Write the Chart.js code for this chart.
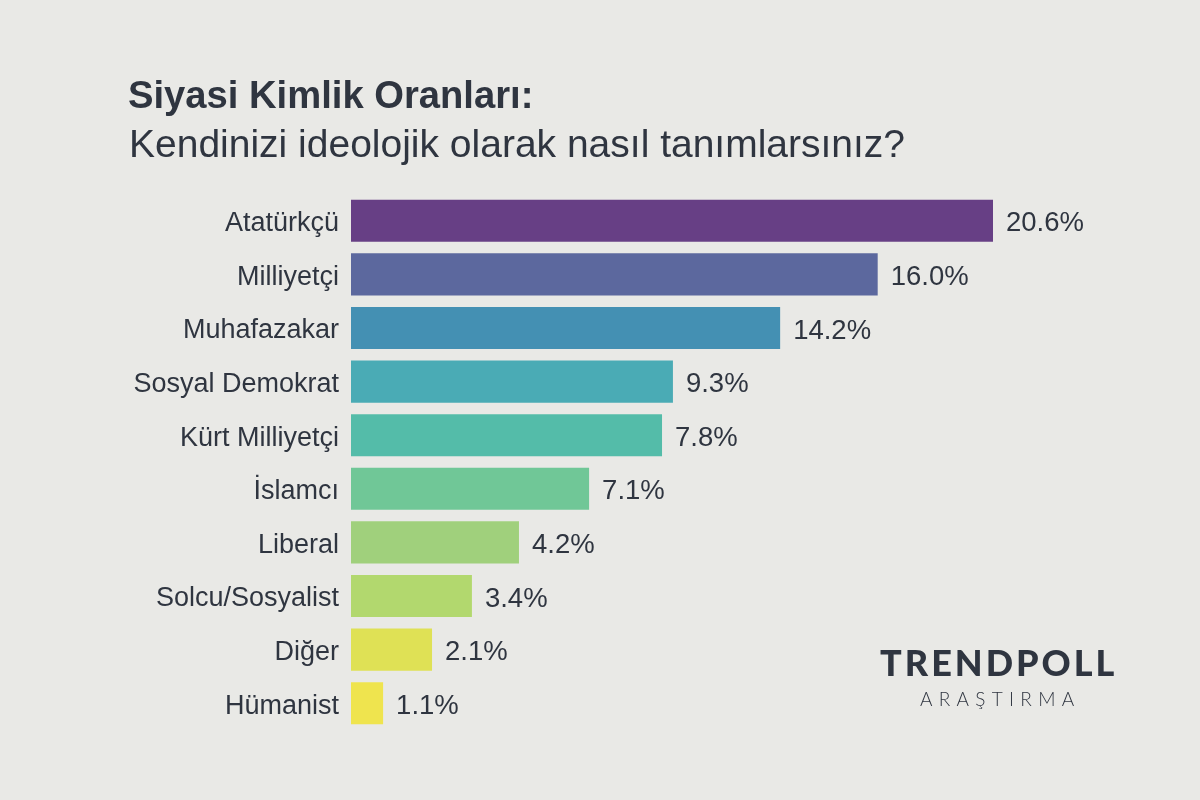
<!DOCTYPE html>
<html lang="tr">
<head>
<meta charset="utf-8">
<script src="https://cdn.jsdelivr.net/npm/chart.js@4"></script>
<style>
html,body{margin:0;padding:0;background:#e9e9e6;}
#wrap{position:relative;width:1200px;height:800px;overflow:hidden;background:#e9e9e6;color:#2f3540;}
#chart{position:absolute;left:0;top:0;}
.t{position:absolute;white-space:nowrap;line-height:1;}
#title{left:128px;top:76px;font:bold 38.2px/1 "Liberation Sans",sans-serif;}
#sub{left:129px;top:124px;font:39px/1 "Liberation Sans",sans-serif;}
#logo1{left:880px;top:644px;font:900 36px/1 Lato,sans-serif;letter-spacing:3px;}
#logo2{left:920px;top:689px;font:300 19px/1 Lato,sans-serif;letter-spacing:6.3px;}
</style>
</head>
<body>
<div id="wrap">
<canvas id="chart" width="1200" height="800"></canvas>
<div class="t" id="title">Siyasi Kimlik Oranları:</div>
<div class="t" id="sub">Kendinizi ideolojik olarak nasıl tanımlarsınız?</div>
<div class="t" id="logo1">TRENDPOLL</div>
<div class="t" id="logo2">ARAŞTIRMA</div>
</div>
<script>
const categories = ["Atatürkçü","Milliyetçi","Muhafazakar","Sosyal Demokrat","Kürt Milliyetçi","İslamcı","Liberal","Solcu/Sosyalist","Diğer","Hümanist"];
// Printed percentages, as shown beside each bar.
const printedValues = [20.6,16.0,14.2,9.3,7.8,7.1,4.2,3.4,2.1,1.1];
// Bar lengths as drawn in the reference: they are not proportional to the printed
// percentages, so they are read separately, in units where the top bar equals 20.6.
const drawnLengths = [20.6,16.9,13.77,10.33,9.98,7.64,5.39,3.88,2.6,1.03];
const barColors = ["#673f85","#5c689e","#4490b3","#4aabb5","#54bca9","#70c797","#a0d07c","#b2d86e","#dfe155","#efe44e"];
const axisMax = 20.6;

const valueLabels = {
  id:"valueLabels",
  afterDatasetsDraw(chart){
    const {ctx} = chart;
    ctx.save();
    ctx.font = '27.5px "Liberation Sans", sans-serif';
    ctx.fillStyle = "#2f3540";
    ctx.textBaseline = "middle";
    ctx.textAlign = "left";
    chart.getDatasetMeta(0).data.forEach((bar,i)=>{
      ctx.fillText(printedValues[i].toFixed(1)+"%", bar.x+13, bar.y+3);
    });
    ctx.restore();
  }
};

new Chart(document.getElementById("chart"),{
  type:"bar",
  data:{labels:categories,datasets:[{data:drawnLengths,backgroundColor:barColors,borderWidth:0,barPercentage:0.785,categoryPercentage:1}]},
  plugins:[valueLabels],
  options:{
    indexAxis:"y",
    responsive:false,
    animation:false,
    layout:{padding:{top:194,bottom:70,left:0,right:207}},
    plugins:{legend:{display:false},tooltip:{enabled:false},title:{display:false}},
    scales:{
      x:{display:false,min:0,max:axisMax},
      y:{
        afterFit(s){s.width=351;},
        grid:{display:false},
        border:{display:false},
        ticks:{color:"#2f3540",padding:4,labelOffset:3,font:{family:'"Liberation Sans", sans-serif',size:27},autoSkip:false}
      }
    }
  }
});
</script>
</body>
</html>
